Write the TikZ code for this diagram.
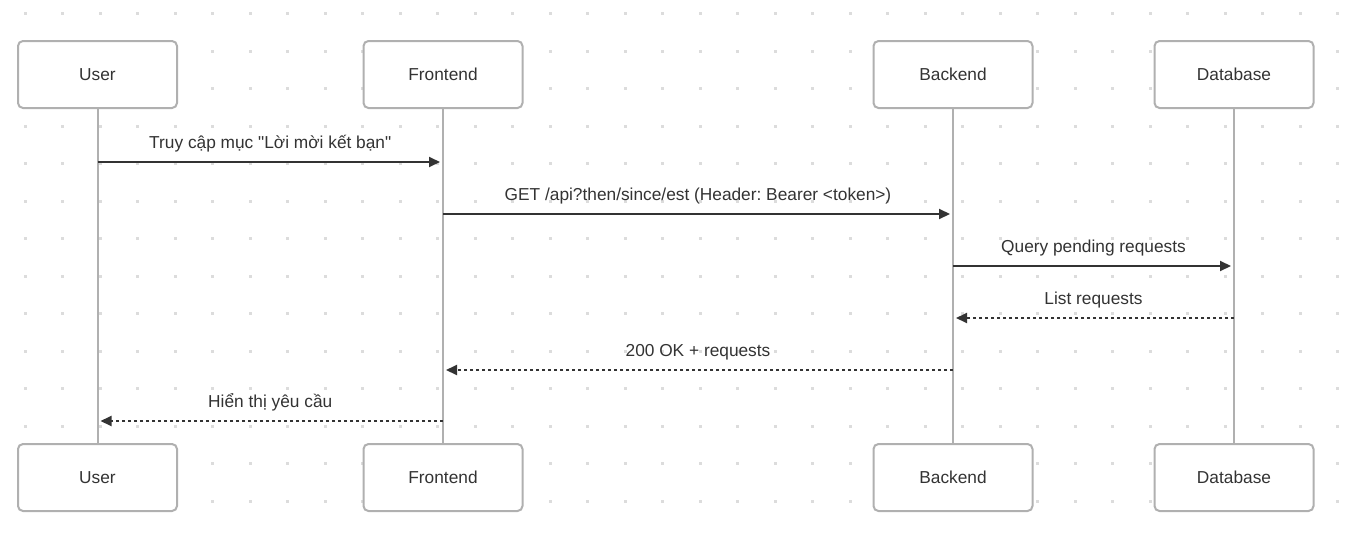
\documentclass[tikz,border=0pt]{standalone}
\usepackage{fontspec}
\newfontfamily\arial{Liberation Sans}
\usetikzlibrary{arrows.meta,positioning}
\definecolor{boxgray}{HTML}{B0B0B0}
\definecolor{ink}{HTML}{333333}
\definecolor{dotgray}{HTML}{DCDCDC}
\frenchspacing
\begin{document}
\begin{tikzpicture}
[x=1pt,y=-1pt,
txt/.style={text=ink,font=\arial\fontsize{17.3}{20}\selectfont},
actor/.style={txt,draw=boxgray,line width=2pt,rounded corners=5pt,fill=white,
  minimum width=159pt,minimum height=67pt,inner sep=0pt},
lifeline/.style={draw=boxgray,line width=2pt},
call/.style={draw=ink,line width=2pt,-{Triangle[length=11pt,width=10pt]},shorten >=3pt},
reply/.style={call,dash pattern=on 3pt off 3pt},
msg/.style={txt,anchor=base,yshift=14pt,inner sep=0pt}]
\useasboundingbox [fill=white] (0,0) rectangle (1359,538);

% background grid
\foreach \i in {0,...,35}
  \foreach \j in {0,...,13}
    \fill [dotgray] (25+37.5*\i,13.5+37.5*\j) ++(-1.5,-1.5) rectangle ++(3,3);

% lifelines
\path (97.5,74.5) node (user) [actor] {User}
      (443,74.5) node (front) [actor] {Frontend}
      (953,74.5) node (back) [actor] {Backend}
      (1234,74.5) node (db) [actor] {Database};
\path (97.5,477.5) node (userb) [actor] {User}
      (443,477.5) node (frontb) [actor] {Frontend}
      (953,477.5) node (backb) [actor] {Backend}
      (1234,477.5) node (dbb) [actor] {Database};
\draw [lifeline] (user) -- (userb);
\draw [lifeline] (front) -- (frontb);
\draw [lifeline] (back) -- (backb);
\draw [lifeline] (db) -- (dbb);

% messages
\foreach \n/\y in {1/162,2/214,3/266,4/318,5/370,6/421}
  \coordinate (t\n) at (0,\y);
\draw [call] (user |- t1) -- node [msg] {Truy cập mục "Lời mời kết bạn"} (front |- t1);
\draw [call] (front |- t2) -- node [msg] {GET /api?then/since/est (Header: Bearer <token>)} (back |- t2);
\draw [call] (back |- t3) -- node [msg] {Query pending requests} (db |- t3);
\draw [reply] (db |- t4) -- node [msg] {List requests} (back |- t4);
\draw [reply] (back |- t5) -- node [msg] {200 OK + requests} (front |- t5);
\draw [reply] (front |- t6) -- node [msg] {Hiển thị yêu cầu} (user |- t6);
\end{tikzpicture}
\end{document}
